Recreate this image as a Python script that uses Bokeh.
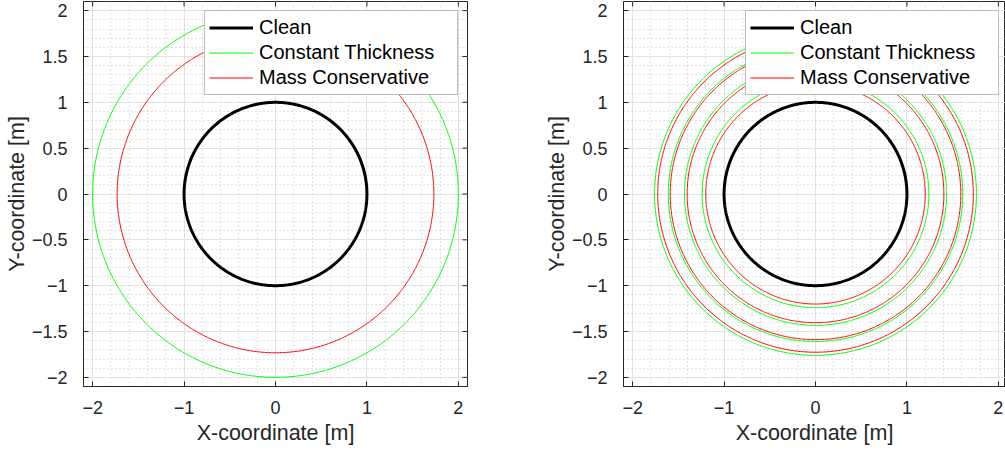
import numpy as np
from bokeh.plotting import figure
from bokeh.models import FixedTicker, Range1d, Legend, LegendItem
from bokeh.layouts import row
from bokeh.embed import file_html
from bokeh.resources import INLINE

# ---- data ----
clean_radius = [1.0]
left_constant_radius = [2.0]
left_mass_radius = [1.732]
right_constant_radius = [1.24, 1.433, 1.61, 1.76]
right_mass_radius = [1.2, 1.404, 1.589, 1.726]
series_labels = ["Clean", "Constant Thickness", "Mass Conservative"]
x_ticks = [-2, -1, 0, 1, 2]
y_ticks = [-2, -1.5, -1, -0.5, 0, 0.5, 1, 1.5, 2]
x_minor = [round(v, 2) for v in np.arange(-2.0, 2.01, 0.2)]
y_minor = [round(v, 2) for v in np.arange(-2.0, 2.01, 0.1)]

AX = "#262626"
FONT = "Liberation Sans"
theta = np.linspace(0, 2 * np.pi, 721)


def rings(radii):
    return [list(r * np.cos(theta)) for r in radii], [list(r * np.sin(theta)) for r in radii]


def make_fig(width, x_end, border_right, const_r, mass_r, legend_x, right_ticks=True):
    p = figure(width=width, height=450, x_range=Range1d(-2.1, x_end), y_range=Range1d(-2.1, 2.1),
               output_backend="svg", toolbar_location=None,
               min_border_left=83, min_border_right=border_right, min_border_top=1, min_border_bottom=64,
               x_axis_label="X-coordinate [m]", y_axis_label="Y-coordinate [m]")
    p.background_fill_color = "white"
    p.border_fill_color = "white"
    p.outline_line_color = AX
    p.outline_line_width = 1

    xt = FixedTicker(ticks=x_ticks, minor_ticks=x_minor)
    yt = FixedTicker(ticks=y_ticks, minor_ticks=y_minor)
    p.xaxis.ticker = xt
    p.yaxis.ticker = yt
    p.xgrid.ticker = xt
    p.ygrid.ticker = yt

    for ax in (p.xaxis[0], p.yaxis[0]):
        ax.axis_line_color = AX
        ax.major_tick_line_color = AX
        ax.major_tick_in = 5
        ax.major_tick_out = 0
        ax.minor_tick_line_color = None
        ax.major_label_text_font = FONT
        ax.major_label_text_font_size = "18px"
        ax.major_label_text_color = AX
        ax.axis_label_text_font = FONT
        ax.axis_label_text_font_size = "21.5px"
        ax.axis_label_text_font_style = "normal"
        ax.axis_label_text_color = AX
    p.xaxis.major_label_standoff = 10
    p.yaxis.major_label_standoff = 12
    p.xaxis.axis_label_standoff = 4
    p.yaxis.axis_label_standoff = 0

    for g in (p.xgrid[0], p.ygrid[0]):
        g.grid_line_color = "#e2e2e2"
        g.grid_line_width = 1
        g.minor_grid_line_color = "#c4c4c4"
        g.minor_grid_line_dash = "1 3"
        g.minor_grid_line_width = 1

    # inward tick marks on the top (and right) edges of the box
    p.ray(x=x_ticks, y=[2.1] * len(x_ticks), length=5, length_units="screen",
          angle=-np.pi / 2, line_color=AX, line_width=1)
    if right_ticks:
        p.ray(x=[x_end] * len(y_ticks), y=y_ticks, length=5, length_units="screen",
              angle=np.pi, line_color=AX, line_width=1)

    cx, cy = rings(clean_radius)
    gx, gy = rings(const_r)
    rx, ry = rings(mass_r)
    r_clean = p.multi_line(cx, cy, line_color="black", line_width=3)
    r_const = p.multi_line(gx, gy, line_color="#00ff00", line_width=1)
    r_mass = p.multi_line(rx, ry, line_color="#ff0000", line_width=1)

    legend = Legend(items=[LegendItem(label=series_labels[0], renderers=[r_clean]),
                           LegendItem(label=series_labels[1], renderers=[r_const]),
                           LegendItem(label=series_labels[2], renderers=[r_mass])],
                    location=(legend_x, 291), padding=4, spacing=0, margin=0,
                    glyph_width=44, glyph_height=25, label_height=25, label_width=194,
                    label_standoff=6, label_text_font=FONT, label_text_font_size="20px",
                    label_text_color="black",
                    border_line_color="#7a7a7a", border_line_width=1,
                    background_fill_color="white", background_fill_alpha=1)
    p.add_layout(legend, "center")
    return p


p1 = make_fig(540, 2.1, 73, left_constant_radius, left_mass_radius, 121)
p2 = make_fig(465, 2.078, 0, right_constant_radius, right_mass_radius, 122, right_ticks=False)

layout = row(p1, p2)
open("out.html", "w").write(file_html(layout, INLINE))
